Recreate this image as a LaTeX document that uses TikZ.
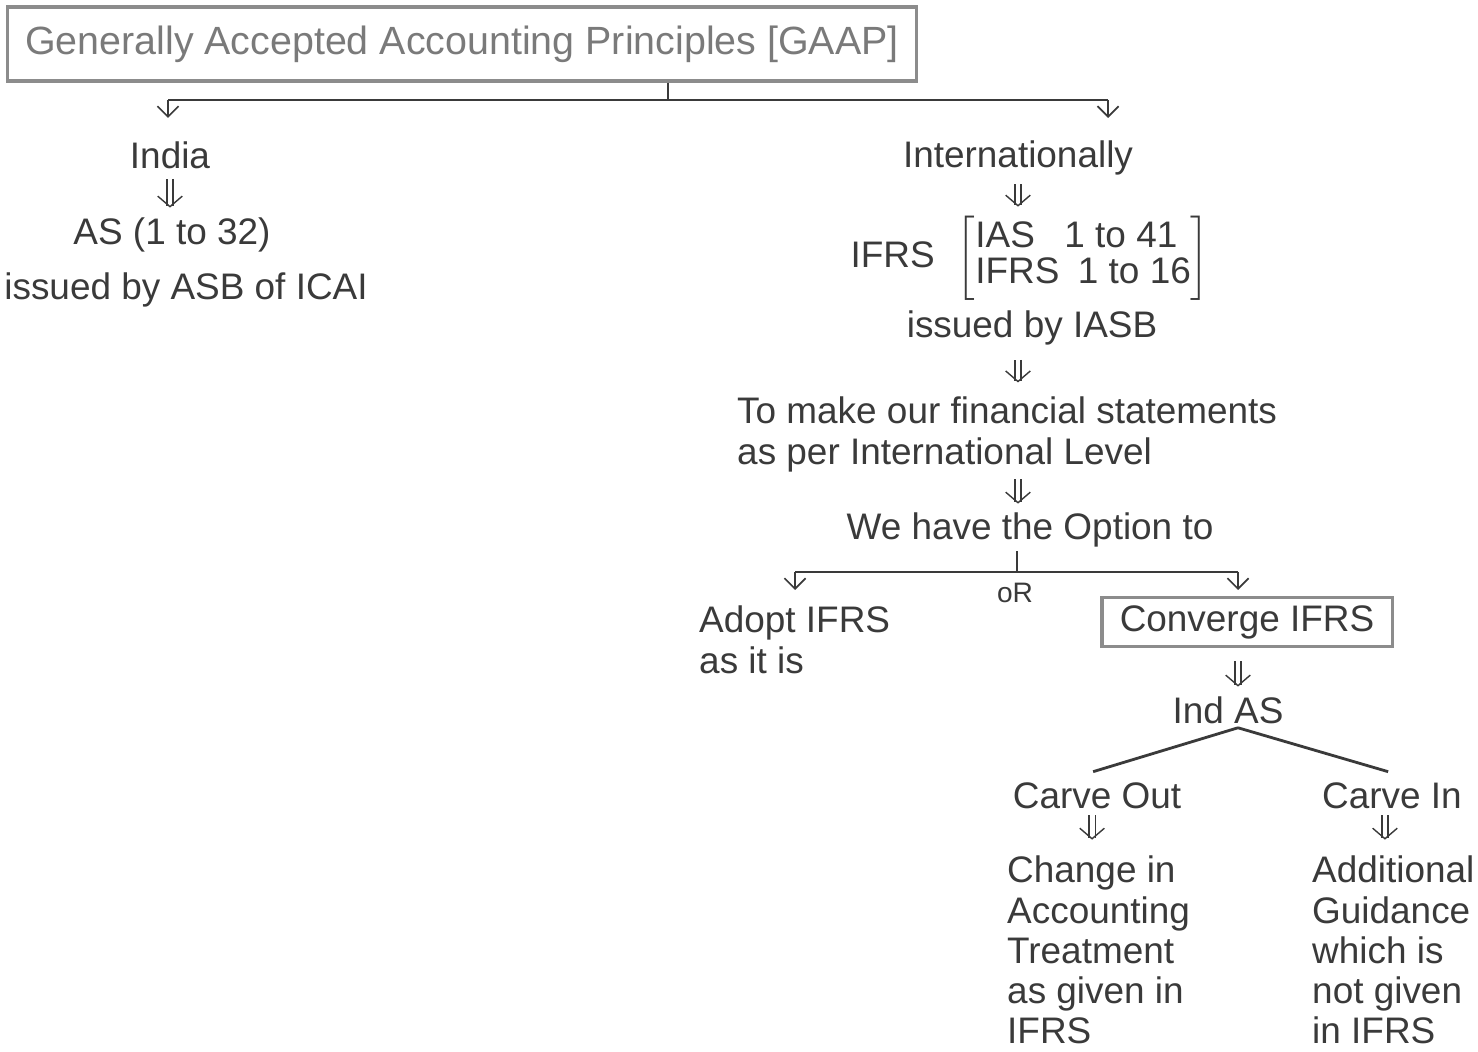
\documentclass[tikz,border=0pt]{standalone}
\usepackage{fontspec}
\setmainfont{Liberation Sans}
\usetikzlibrary{arrows.meta, positioning}
\definecolor{ink}{HTML}{3A3A3A}
\definecolor{faint}{HTML}{7A7A7A}
\definecolor{rim}{HTML}{8C8C8C}

\begin{document}
\begin{tikzpicture}[x=0.01cm, y=-0.01cm,
		txt/.style={text=ink, font=\fontsize{10.5}{11.4}\selectfont, inner sep=1pt},
		para/.style={txt, align=left, anchor=north west},
		frame/.style={draw=rim, line width=0.9pt},
		link/.style={draw=ink, line width=0.8pt},
		drop/.style={draw=ink, line width=0.5pt, -{Straight Barb[length=3pt, width=6pt]}},
		dbl/.style={draw=ink, double, double distance=1.4pt, line width=0.4pt, -{Straight Barb[length=3pt, width=7pt]}}
	]
	\useasboundingbox (0,0) rectangle (1478,1052);

	% Top box and the first split
	\node[frame, txt, text=faint, font=\fontsize{11.2}{12}\selectfont, minimum width=9.08cm, minimum height=0.74cm] (gaap) at (462,44) {Generally Accepted Accounting Principles [GAAP]};
	\coordinate (hub) at (668,100);
	\coordinate (leftdrop) at (168,118);
	\coordinate (rightdrop) at (1108,118);
	\draw[link] (gaap.south -| hub) -- (hub);
	\draw[link] (hub -| leftdrop) -- (hub -| rightdrop);
	\draw[drop] (hub -| leftdrop) -- (leftdrop);
	\draw[drop] (hub -| rightdrop) -- (rightdrop);

	% India side
	\node[txt] (india) at (170,155) {India};
	\node[txt] (as) at (172,235) {AS (1 to 32)};
	\node[txt] (asb) at (186,290) {issued by ASB of ICAI};
	\draw[dbl, shorten <=1.7pt, shorten >=1.7pt] (india.south) -- (india.south |- as.north);

	% International side
	\node[txt] (intl) at (1018,158) {Internationally};
	\node[txt] (ifrs) at (1030,258) {IFRS\hspace{0.6em}$\left[\renewcommand\arraystretch{0.87}\begin{tabular}{@{}l@{}}IAS\hspace{0.8em}1 to 41\\IFRS\hspace{0.5em}1 to 16\end{tabular}\right]$};
	\node[txt] (iasb) at (1032,328) {issued by IASB};
	\node[para] (tomake) at (733,393) {To make our financial statements\\as per International Level};
	\node[txt] (option) at (1030,530) {We have the Option to};
	\draw[dbl, shorten <=1.4pt, shorten >=1.4pt] (intl.south) -- (intl.south |- ifrs.north);
	\draw[dbl, shorten <=3pt, shorten >=3pt] (iasb.south -| intl) -- (tomake.north -| intl);
	\draw[dbl, shorten <=1pt, shorten >=1.4pt] (tomake.south -| intl) -- (option.north -| intl);

	% The option split
	\coordinate (fork) at (1017,572);
	\coordinate (adoptdrop) at (795,590);
	\coordinate (convdrop) at (1238,590);
	\draw[link] (option.south -| fork) -- (fork);
	\draw[link] (fork -| adoptdrop) -- (fork -| convdrop);
	\draw[drop] (fork -| adoptdrop) -- (adoptdrop);
	\draw[drop] (fork -| convdrop) -- (convdrop);
	\node[txt, font=\fontsize{8}{10}\selectfont] (or) at (1015,593) {oR};
	\node[para] (adopt) at (695,602) {Adopt IFRS\\as it is};
	\node[frame, txt, minimum width=2.9cm, minimum height=0.49cm] (converge) at (1247,622) {Converge IFRS};

	% Ind AS and the carve split
	\node[txt] (indas) at (1228,710) {Ind AS};
	\draw[dbl, shorten <=3.8pt, shorten >=1.6pt] (converge.south -| convdrop) -- (indas.north -| convdrop);
	\node[txt] (carveout) at (1097,796) {Carve Out};
	\node[txt] (carvein) at (1392,796) {Carve In};
	\draw[link] (indas.south -| convdrop) -- ([shift={(-1.1pt,2pt)}]carveout.north);
	\draw[link] (indas.south -| convdrop) -- ([shift={(-1.1pt,2pt)}]carvein.north);
	\node[para] (change) at (1003,852) {Change in\\Accounting\\Treatment\\as given in\\IFRS};
	\node[para] (extra) at (1308,852) {Additional\\Guidance\\which is\\not given\\in IFRS};
	\draw[dbl, shorten <=0.6pt, shorten >=3.5pt] ([xshift=-1.4pt]carveout.south) -- ([xshift=-1.4pt]carveout.south |- change.north);
	\draw[dbl, shorten <=0.6pt, shorten >=3.5pt] ([xshift=-2pt]carvein.south) -- ([xshift=-2pt]carvein.south |- extra.north);

\end{tikzpicture}
\end{document}
